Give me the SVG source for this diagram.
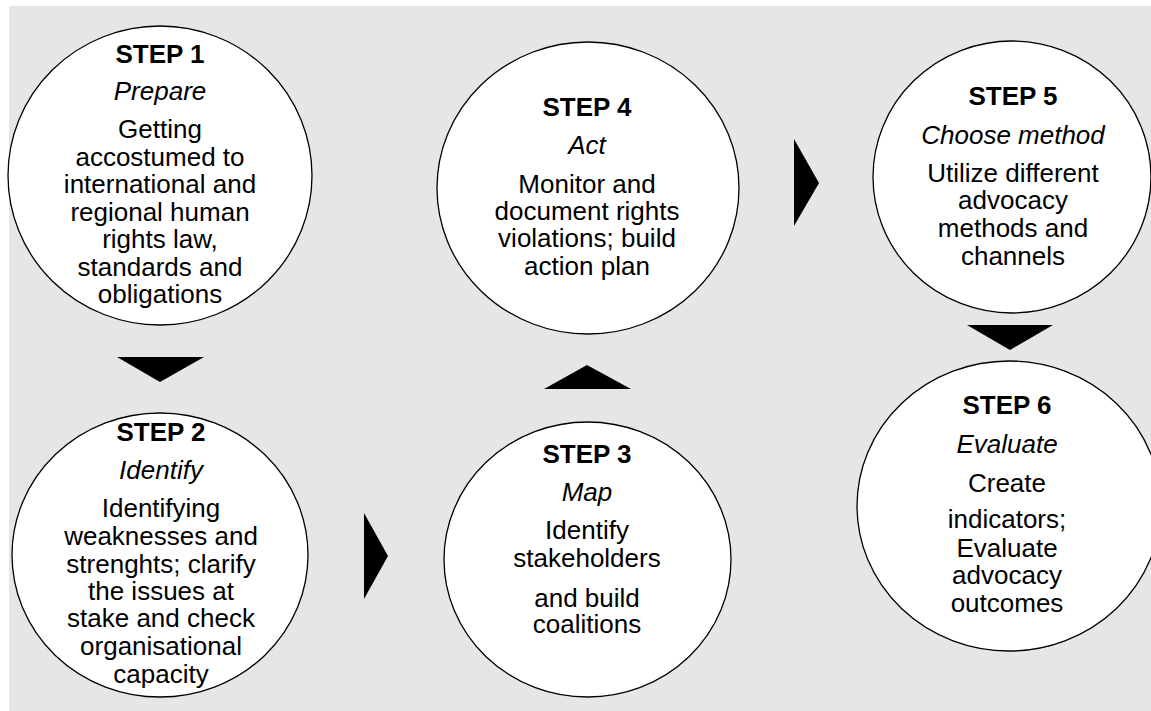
<svg xmlns="http://www.w3.org/2000/svg" width="1151" height="711" viewBox="0 0 1151 711">
<style>
.bg{fill:#e6e6e6}
.node{fill:#ffffff;stroke:#000000;stroke-width:1.3}
text{font-family:"Liberation Sans",Arial,sans-serif;font-size:26px;fill:#000000;text-anchor:middle}
.t{font-weight:bold}
.s{font-style:italic}
.arrow{fill:#000000}
</style>
<rect class="bg" x="9" y="6" width="1142" height="705"/>
<g id="connectors">
<polygon class="arrow" points="117,357 204,357 160,382"/>
<polygon class="arrow" points="364,513 364,599 388,556"/>
<polygon class="arrow" points="544,389 631,389 587,365"/>
<polygon class="arrow" points="794,139 794,226 819,183"/>
<polygon class="arrow" points="967,325 1053,325 1010,350"/>
</g>
<g id="step1">
<ellipse class="node" cx="160" cy="175.5" rx="152" ry="149.5"/>
<text class="t" x="160" y="63">STEP 1</text>
<text class="s" x="160" y="100">Prepare</text>
<text x="160" y="138">Getting</text>
<text x="160" y="166">accostumed to</text>
<text x="160" y="193">international and</text>
<text x="160" y="221">regional human</text>
<text x="160" y="248">rights law,</text>
<text x="160" y="276">standards and</text>
<text x="160" y="303">obligations</text>
</g>
<g id="step2">
<ellipse class="node" cx="160" cy="555" rx="148" ry="142"/>
<text class="t" x="161" y="441">STEP 2</text>
<text class="s" x="161" y="479">Identify</text>
<text x="161" y="517">Identifying</text>
<text x="161" y="545">weaknesses and</text>
<text x="161" y="573">strenghts; clarify</text>
<text x="161" y="600">the issues at</text>
<text x="161" y="627">stake and check</text>
<text x="161" y="655">organisational</text>
<text x="161" y="683">capacity</text>
</g>
<g id="step3">
<ellipse class="node" cx="587.5" cy="559.5" rx="143.5" ry="137.5"/>
<text class="t" x="587" y="463">STEP 3</text>
<text class="s" x="587" y="501">Map</text>
<text x="587" y="539">Identify</text>
<text x="587" y="567">stakeholders</text>
<text x="587" y="607">and build</text>
<text x="587" y="633">coalitions</text>
</g>
<g id="step4">
<ellipse class="node" cx="588" cy="188" rx="151" ry="146"/>
<text class="t" x="587" y="116">STEP 4</text>
<text class="s" x="587" y="154">Act</text>
<text x="587" y="193">Monitor and</text>
<text x="587" y="220">document rights</text>
<text x="587" y="247">violations; build</text>
<text x="587" y="275">action plan</text>
</g>
<g id="step5">
<ellipse class="node" cx="1012" cy="177" rx="139" ry="136"/>
<text class="t" x="1013" y="105">STEP 5</text>
<text class="s" x="1013" y="144">Choose method</text>
<text x="1013" y="182">Utilize different</text>
<text x="1013" y="209">advocacy</text>
<text x="1013" y="237">methods and</text>
<text x="1013" y="265">channels</text>
</g>
<g id="step6">
<ellipse class="node" cx="1009" cy="506" rx="152" ry="145"/>
<text class="t" x="1007" y="414">STEP 6</text>
<text class="s" x="1007" y="453">Evaluate</text>
<text x="1007" y="492">Create</text>
<text x="1007" y="528">indicators;</text>
<text x="1007" y="557">Evaluate</text>
<text x="1007" y="584">advocacy</text>
<text x="1007" y="612">outcomes</text>
</g>
</svg>
